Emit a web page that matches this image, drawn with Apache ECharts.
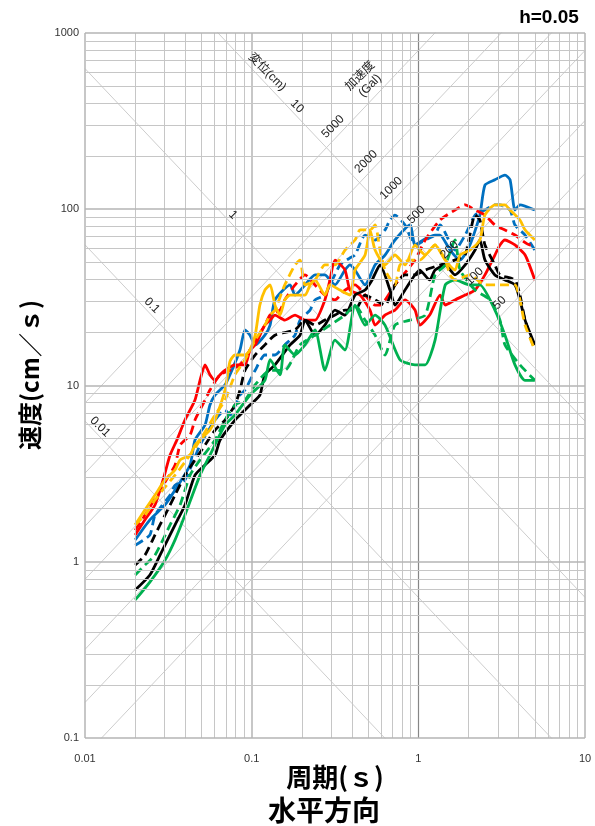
<!DOCTYPE html>
<html>
<head>
<meta charset="utf-8">
<script src="https://cdn.jsdelivr.net/npm/echarts@6/dist/echarts.min.js"></script>
<style>
  html, body { margin: 0; padding: 0; background: #fff; }
  #chart { width: 595px; height: 826px; }
</style>
</head>
<body>
<div id="chart"></div>
<script>
// ---- axis ticks ----
const periodTicks = [0.01, 0.1, 1, 10];          // 周期 (s)
const velocityTicks = [0.1, 1, 10, 100, 1000];   // 速度 (cm/s)

// ---- tripartite guide lines ----
const dispLines = [0.01, 0.1, 1, 10];                        // 変位 (cm)
const accLines = [50, 100, 200, 500, 1000, 2000, 5000];      // 加速度 (Gal)

// ---- pseudo-velocity response spectra, h=0.05 : [period s, velocity cm/s] ----
const blueSolid = [[0.02,1.33],[0.0245,1.73],[0.0302,2.10],[0.0347,2.55],[0.0427,3.54],[0.0457,4.91],[0.0525,5.97],[0.0562,7.75],[0.0603,8.83],[0.0692,10.1],[0.0741,11.5],[0.0851,15.9],[0.0912,20.7],[0.0977,19.3],[0.105,17.0],[0.120,19.3],[0.129,22.0],[0.138,30.6],[0.170,37.2],[0.182,32.6],[0.209,37.2],[0.240,42.4],[0.275,42.4],[0.295,39.7],[0.316,37.2],[0.363,45.2],[0.389,48.3],[0.417,45.2],[0.479,37.2],[0.550,48.3],[0.631,55.0],[0.724,66.9],[0.891,81.4],[0.955,62.7],[1.10,68.0],[1.26,71.4],[1.35,71.4],[1.55,58.7],[1.78,51.5],[2.04,62.7],[2.34,92.7],[2.51,137],[2.88,147],[3.31,156],[3.55,147],[3.80,99],[4.07,106],[5.0,99]];
const blueDashed = [[0.02,1.24],[0.0245,1.42],[0.0263,1.84],[0.0324,2.39],[0.0347,2.72],[0.0398,2.91],[0.049,4.59],[0.0603,6.37],[0.0692,7.26],[0.0741,6.80],[0.0851,8.83],[0.0912,9.42],[0.105,12.2],[0.120,14.9],[0.138,14.9],[0.158,17.0],[0.170,18.1],[0.182,19.3],[0.195,23.5],[0.224,26.8],[0.240,30.6],[0.275,32.6],[0.295,37.2],[0.339,48.3],[0.389,53.0],[0.417,55.0],[0.479,71.4],[0.550,66.9],[0.631,76.3],[0.676,86.9],[0.724,92.7],[0.832,81.4],[0.955,62.7],[1.10,66.9],[1.26,71.4],[1.35,81.4],[1.66,58.7],[1.91,71.4],[2.19,92.7],[2.51,99],[2.88,106],[3.09,106],[3.55,99],[3.80,81.4],[4.37,71.4],[5.0,58.7]];
const redSolid = [[0.02,1.42],[0.0229,1.73],[0.0263,2.10],[0.0294,2.91],[0.0324,4.03],[0.0356,4.91],[0.0398,6.37],[0.0457,8.27],[0.049,10.7],[0.0525,13.1],[0.0562,11.5],[0.0603,10.7],[0.0646,11.5],[0.0692,12.2],[0.0794,13.1],[0.0912,13.1],[0.0977,15.9],[0.105,17.0],[0.120,22.0],[0.129,23.5],[0.138,25.1],[0.158,23.5],[0.182,25.1],[0.209,23.5],[0.240,23.5],[0.275,30.6],[0.295,39.7],[0.316,51.5],[0.363,45.2],[0.389,34.8],[0.447,32.6],[0.513,26.8],[0.550,22.0],[0.631,25.1],[0.724,26.8],[0.832,30.6],[0.955,26.8],[1.02,22.0],[1.17,25.1],[1.35,32.6],[1.45,28.6],[1.66,30.6],[1.91,32.6],[2.19,34.8],[2.51,42.4],[2.88,55.0],[3.09,62.7],[3.31,66.9],[3.80,62.7],[4.37,55.0],[5.0,39.7]];
const redDashed = [[0.02,1.51],[0.0229,1.84],[0.0282,2.55],[0.0347,3.54],[0.0372,4.59],[0.0427,5.24],[0.0457,6.37],[0.0525,8.27],[0.0562,9.42],[0.0646,11.5],[0.0741,12.2],[0.0851,13.1],[0.0977,15.9],[0.105,18.1],[0.120,22.0],[0.129,25.1],[0.148,26.8],[0.158,30.6],[0.182,37.2],[0.209,42.4],[0.240,37.2],[0.275,32.6],[0.316,30.6],[0.363,34.8],[0.417,37.2],[0.479,32.6],[0.550,28.6],[0.589,28.6],[0.724,37.2],[0.955,51.5],[1.10,66.9],[1.35,86.9],[1.66,99],[1.91,106],[2.19,99],[2.51,92.7],[2.88,81.4],[3.31,76.3],[3.80,71.4],[4.68,62.7],[5.0,62.7]];
const blackSolid = [[0.02,0.691],[0.0245,0.841],[0.0282,1.09],[0.0347,1.62],[0.0398,2.10],[0.0457,3.10],[0.0525,3.54],[0.0603,4.03],[0.0646,4.91],[0.0794,6.37],[0.0851,6.80],[0.0977,7.75],[0.112,8.83],[0.120,11.5],[0.138,13.1],[0.170,17.0],[0.195,19.3],[0.209,23.5],[0.240,19.3],[0.275,22.0],[0.316,26.8],[0.363,25.1],[0.417,32.6],[0.479,34.8],[0.528,39.7],[0.589,48.3],[0.676,34.8],[0.724,28.6],[0.832,34.8],[1.02,45.2],[1.17,39.7],[1.26,45.2],[1.45,48.3],[1.66,42.4],[1.91,48.3],[2.19,58.7],[2.34,66.9],[2.51,51.5],[2.88,42.4],[3.31,39.7],[3.80,37.2],[4.07,30.6],[4.37,23.5],[5.0,17.0]];
const blackDashed = [[0.02,0.958],[0.0229,1.09],[0.0263,1.42],[0.0302,1.84],[0.0347,2.39],[0.0398,3.10],[0.0457,3.78],[0.0525,4.59],[0.0603,5.59],[0.0692,6.37],[0.0794,7.75],[0.0851,9.42],[0.0912,12.2],[0.105,14.9],[0.120,17.0],[0.138,19.3],[0.182,20.7],[0.209,23.5],[0.240,22.0],[0.275,23.5],[0.316,25.1],[0.363,26.8],[0.417,26.8],[0.479,32.6],[0.550,30.6],[0.631,28.6],[0.724,37.2],[0.832,42.4],[0.955,42.4],[1.10,45.2],[1.35,48.3],[1.66,51.5],[1.91,55.0],[2.19,92.7],[2.34,86.9],[2.51,62.7],[2.88,48.3],[3.09,42.4],[3.80,39.7],[4.07,32.6],[4.37,23.5],[5.0,15.9]];
const greenSolid = [[0.02,0.607],[0.0245,0.767],[0.0302,1.02],[0.0347,1.33],[0.0398,1.84],[0.049,3.10],[0.0562,4.03],[0.0692,5.97],[0.0794,6.80],[0.0977,8.83],[0.120,10.7],[0.129,14.0],[0.148,11.5],[0.158,17.0],[0.182,14.9],[0.209,17.0],[0.240,20.7],[0.275,12.2],[0.316,18.1],[0.363,15.9],[0.417,28.6],[0.479,22.0],[0.550,25.1],[0.631,22.0],[0.776,14.0],[0.955,13.1],[1.10,13.1],[1.26,18.1],[1.45,37.2],[1.66,39.7],[2.04,37.2],[2.34,37.2],[2.88,26.8],[3.31,19.3],[3.80,13.1],[4.37,10.7],[5.0,10.7]];
const greenDashed = [[0.02,0.841],[0.0229,0.958],[0.0263,1.09],[0.0324,1.62],[0.0372,2.10],[0.0427,3.10],[0.049,3.78],[0.0603,4.91],[0.0692,6.37],[0.0794,7.75],[0.0912,8.27],[0.105,10.1],[0.129,12.2],[0.158,12.2],[0.195,17.0],[0.240,19.3],[0.295,22.0],[0.363,25.1],[0.417,28.6],[0.479,23.5],[0.550,19.3],[0.631,14.9],[0.724,22.0],[0.891,23.5],[1.10,25.1],[1.26,42.4],[1.45,48.3],[1.66,66.9],[1.78,45.2],[2.19,34.8],[2.69,30.6],[3.09,23.5],[3.31,17.0],[4.07,13.1],[5.0,10.7]];
const orangeSolid = [[0.02,1.62],[0.0229,1.97],[0.0263,2.39],[0.0302,2.91],[0.0347,3.32],[0.0372,3.78],[0.0427,4.03],[0.0457,4.59],[0.0525,5.24],[0.0562,5.59],[0.0603,6.37],[0.0692,9.42],[0.0741,13.7],[0.0794,14.9],[0.0912,14.9],[0.0977,15.9],[0.105,19.3],[0.112,28.6],[0.120,34.8],[0.129,37.2],[0.138,28.6],[0.148,25.1],[0.158,30.6],[0.170,32.6],[0.209,32.6],[0.224,37.2],[0.240,39.7],[0.275,32.6],[0.295,37.2],[0.339,34.8],[0.389,32.6],[0.417,45.2],[0.479,55.0],[0.513,76.3],[0.550,58.7],[0.631,48.3],[0.724,55.0],[0.832,48.3],[0.955,62.7],[1.02,58.7],[1.10,55.0],[1.26,62.7],[1.45,51.5],[1.66,45.2],[1.78,55.0],[2.04,58.7],[2.34,66.9],[2.51,92.7],[2.88,106],[3.31,106],[3.55,99],[4.07,86.9],[4.37,76.3],[5.0,66.9]];
const orangeDashed = [[0.02,1.62],[0.0229,1.84],[0.0263,2.24],[0.0302,2.65],[0.0347,3.10],[0.0398,3.68],[0.0457,4.42],[0.0525,5.45],[0.0603,6.80],[0.0692,8.27],[0.0794,11.5],[0.0912,14.0],[0.105,18.1],[0.120,22.0],[0.129,25.1],[0.138,26.8],[0.158,37.2],[0.182,48.3],[0.195,51.5],[0.209,37.2],[0.240,39.7],[0.275,48.3],[0.316,48.3],[0.363,58.7],[0.417,66.9],[0.447,76.3],[0.513,76.3],[0.550,81.4],[0.589,58.7],[0.631,45.2],[0.724,37.2],[0.776,48.3],[0.891,51.5],[1.02,51.5],[1.17,58.7],[1.26,62.7],[1.45,51.5],[1.55,42.4],[1.66,39.7],[2.04,42.4],[2.51,37.2],[3.09,37.2],[3.31,37.2],[3.80,37.2],[4.07,30.6],[4.37,22.0],[5.0,15.9]];

const TWO_PI = 2 * Math.PI;
const T_MIN = periodTicks[0], T_MAX = periodTicks[periodTicks.length - 1];
const V_MIN = velocityTicks[0], V_MAX = velocityTicks[velocityTicks.length - 1];

const COLORS = { blue: '#0070C0', red: '#FF0000', black: '#000000', green: '#00B050', orange: '#FFC000' };
const DASH = [9, 5];

// 1-2-…-9 log grid positions between two decades
function logGrid(lo, hi) {
  const out = [];
  for (let e = Math.round(Math.log10(lo)); e <= Math.round(Math.log10(hi)); e++) {
    for (let k = 1; k <= 9; k++) {
      const v = +(k * Math.pow(10, e)).toPrecision(3);
      if (v >= lo * 0.9999 && v <= hi * 1.0001) out.push(v);
    }
  }
  return out;
}
const isDecade = v => Math.abs(Math.log10(v) - Math.round(Math.log10(v))) < 1e-6;

function gridStyle(v, vertical) {
  if (vertical && Math.abs(v - 1) < 1e-9) return { color: '#868686', width: 1.2, type: 'solid' };
  if (isDecade(v)) return { color: '#b4b4b4', width: 1.5, type: 'solid' };
  return { color: '#c6c6c6', width: 1, type: 'solid' };
}

const gridMarks = [];
logGrid(T_MIN, T_MAX).forEach(v => gridMarks.push({ xAxis: v, lineStyle: gridStyle(v, true) }));
logGrid(V_MIN, V_MAX).forEach(v => gridMarks.push({ yAxis: v, lineStyle: gridStyle(v, false) }));

const series = [];

// displacement (slope -1) and acceleration (slope +1) guides
dispLines.forEach((D, i) => {
  const s = {
    type: 'line', silent: true, z: 1, symbol: 'none', animation: false, clip: true,
    lineStyle: { color: '#cdcdcd', width: 1 },
    data: [[T_MIN, TWO_PI * D / T_MIN], [T_MAX, TWO_PI * D / T_MAX]]
  };
  if (i === 0) {
    s.markLine = {
      silent: true, symbol: ['none', 'none'], label: { show: false }, animation: false,
      data: gridMarks
    };
  }
  series.push(s);
});
accLines.forEach(A => {
  series.push({
    type: 'line', silent: true, z: 1, symbol: 'none', animation: false, clip: true,
    lineStyle: { color: '#cdcdcd', width: 1 },
    data: [[T_MIN, A * T_MIN / TWO_PI], [T_MAX, A * T_MAX / TWO_PI]]
  });
});

function curve(name, data, color, dashed) {
  return {
    name, type: 'line', data, z: 3, symbol: 'none', showSymbol: false,
    smooth: 0.2, silent: true, animation: false,
    lineStyle: { color, width: 2.8, type: dashed ? DASH : 'solid', cap: 'butt', join: 'round' }
  };
}
series.push(curve('B1', blueSolid, COLORS.blue, false));
series.push(curve('B2', blueDashed, COLORS.blue, true));
series.push(curve('R1', redSolid, COLORS.red, false));
series.push(curve('R2', redDashed, COLORS.red, true));
series.push(curve('K1', blackSolid, COLORS.black, false));
series.push(curve('K2', blackDashed, COLORS.black, true));
series.push(curve('G1', greenSolid, COLORS.green, false));
series.push(curve('G2', greenDashed, COLORS.green, true));
series.push(curve('Y1', orangeSolid, COLORS.orange, false));
series.push(curve('Y2', orangeDashed, COLORS.orange, true));

function tickText(list, v) {
  let best = list[0];
  list.forEach(t => { if (Math.abs(Math.log10(t) - Math.log10(v)) < Math.abs(Math.log10(best) - Math.log10(v))) best = t; });
  return String(best);
}

const chart = echarts.init(document.getElementById('chart'), null, { renderer: 'canvas' });
chart.setOption({
  backgroundColor: '#ffffff',
  animation: false,
  grid: { left: 85, top: 33, right: 10, bottom: 88, containLabel: false },
  xAxis: {
    type: 'log', logBase: 10, min: T_MIN, max: T_MAX,
    axisLine: { show: false }, axisTick: { show: false }, splitLine: { show: false },
    axisLabel: {
      margin: 15, color: '#333', fontSize: 11, fontFamily: 'Liberation Sans, Arial, sans-serif',
      formatter: v => tickText(periodTicks, v)
    }
  },
  yAxis: {
    type: 'log', logBase: 10, min: V_MIN, max: V_MAX,
    axisLine: { show: false }, axisTick: { show: false }, splitLine: { show: false },
    axisLabel: {
      margin: 6, color: '#333', fontSize: 11, fontFamily: 'Liberation Sans, Arial, sans-serif',
      formatter: v => tickText(velocityTicks, v)
    }
  },
  series
});

// ---- guide-line captions, positioned along the lines they name ----
const px = (T, V) => chart.convertToPixel({ gridIndex: 0 }, [T, V]);
const graphics = [];
function caption(text, T, V, dy, rot, size) {
  const p = px(T, V);
  graphics.push({
    type: 'text', x: p[0], y: p[1] - dy, rotation: rot, z: 10, silent: true,
    style: {
      text, fill: '#222', align: 'center', verticalAlign: 'middle',
      fontSize: size || 12,
      fontFamily: '"Liberation Sans", "Noto Sans CJK JP", sans-serif', lineHeight: 14
    }
  });
}
const dispLabelPeriods = [0.0123, 0.0252, 0.0773, 0.187];
dispLines.forEach((D, i) => {
  const T = dispLabelPeriods[i];
  caption(String(D), T, TWO_PI * D / T, 10, -Math.PI / 4);
});
const ACC_LABEL_DISP = 12; // captions sit where each acceleration line meets D = 12 cm
accLines.forEach(A => {
  const T = TWO_PI * Math.sqrt(ACC_LABEL_DISP / A);
  caption(String(A), T, A * T / TWO_PI, 14, Math.PI / 4);
});
caption('変位(cm)', 0.124, TWO_PI * 10 / 0.124, 13, -Math.PI / 4);
caption('加速度\n(Gal)', 0.479, 5000 * 0.479 / TWO_PI, 26, Math.PI / 4);

// ---- titles ----
const cjk = '"Noto Sans CJK JP", "Noto Sans CJK SC", sans-serif';
graphics.push({ type: 'text', x: 549, y: 18, z: 10, silent: true,
  style: { text: 'h=0.05', fill: '#000', align: 'center', verticalAlign: 'middle', fontSize: 19, fontWeight: 'bold', fontFamily: '"Liberation Sans", Arial, sans-serif' } });
graphics.push({ type: 'text', x: 335, y: 777, z: 10, silent: true,
  style: { text: '周期(ｓ)', fill: '#000', align: 'center', verticalAlign: 'middle', fontSize: 26, fontWeight: 'bold', fontFamily: cjk } });
graphics.push({ type: 'text', x: 324, y: 810, z: 10, silent: true,
  style: { text: '水平方向', fill: '#000', align: 'center', verticalAlign: 'middle', fontSize: 28, fontWeight: 'bold', fontFamily: cjk } });
graphics.push({ type: 'text', x: 30, y: 375, rotation: Math.PI / 2, z: 10, silent: true,
  style: { text: '速度(cm／ｓ)', fill: '#000', align: 'center', verticalAlign: 'middle', fontSize: 24, fontWeight: 'bold', fontFamily: cjk } });

chart.setOption({ graphic: graphics });
</script>
</body>
</html>
